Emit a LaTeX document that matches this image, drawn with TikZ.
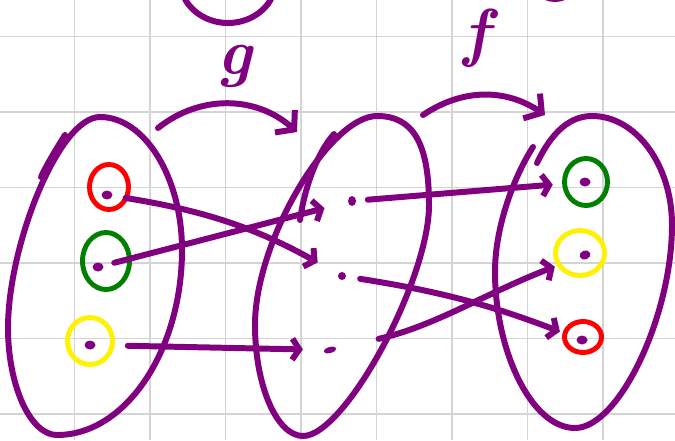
\documentclass[tikz,border=0pt]{standalone}
\usetikzlibrary{arrows.meta,shapes.geometric}
\definecolor{ink}{RGB}{128,0,128}
\definecolor{inkgreen}{RGB}{0,128,0}
\definecolor{gridgray}{RGB}{212,212,212}
\begin{document}
\begin{tikzpicture}[x=0.02cm,y=0.02cm,
  setline/.style={draw=ink, line width=3.4pt, line cap=round, line join=round},
  dot/.style={ellipse, fill=ink, inner sep=0pt, minimum width=0.22cm, minimum height=0.18cm},
  ring/.style={ellipse, draw=#1, line width=2.8pt, inner sep=0pt},
  map/.style={setline, -{Straight Barb[length=4pt,width=12pt]}},
  bigmap/.style={setline, -{Straight Barb[length=7pt,width=17pt]}},
  letter/.style={text=ink, font=\fontsize{37}{37}\selectfont\bfseries\itshape}]
\useasboundingbox (0,0) rectangle (675,440);
\clip (0,0) rectangle (675,440);
\fill[white] (0,0) rectangle (675,440);
\foreach \x in {74.5,150,225.5,301,376.5,452,527.5,603}
  \draw[gridgray, line width=1pt] (\x,0) -- (\x,440);
\foreach \y in {26,101.5,177,252.5,328,403.5}
  \draw[gridgray, line width=1pt] (0,\y) -- (675,\y);

\draw[setline] (228,460) ellipse [x radius=48, y radius=43];
\draw[setline] (555,468) ellipse [x radius=25, y radius=27];

\draw[setline] (100,323) .. controls (145,323) and (182,262) .. (182,190)
  .. controls (182,90) and (126,5) .. (57,5)
  .. controls (30,5) and (8,55) .. (8,112)
  .. controls (8,195) and (59,323) .. cycle;
\draw[setline] (65,305) .. controls (57,292) and (48,278) .. (41,263);
\draw[setline] (377,324) .. controls (413,324) and (429,297) .. (429,235)
  .. controls (429,160) and (345,4) .. (303,4)
  .. controls (277,4) and (255,54) .. (255,115)
  .. controls (255,200) and (330,324) .. cycle;
\draw[setline] (334,306) .. controls (318,288) and (305,255) .. (300,220);
\draw[setline] (533,293) .. controls (515,265) and (495,215) .. (495,168)
  .. controls (495,90) and (531,12) .. (575,12)
  .. controls (619,12) and (672,124) .. (672,215)
  .. controls (672,275) and (636,324) .. (592,324)
  .. controls (565,324) and (548,300) .. (537,277);

\node[letter] (glabel) at (235,374) {g};
\node[letter] (flabel) at (476,402) {f};
\coordinate (gs) at (158,312);
\coordinate (ge) at (297,308);
\coordinate (fs) at (423,325);
\coordinate (fe) at (545,325);
\draw[bigmap] (gs) to[bend left=40] (ge);
\draw[bigmap] (fs) to[bend left=34] (fe);

\node[ring=red, minimum width=0.78cm, minimum height=0.9cm] (lr) at (109,253) {};
\node[ring=inkgreen, minimum width=0.94cm, minimum height=1.14cm] (lg) at (106,179) {};
\node[ring=yellow, minimum width=0.9cm, minimum height=0.94cm] (ly) at (90,99) {};
\node[ring=inkgreen, minimum width=0.86cm, minimum height=0.94cm] (rg) at (586,258) {};
\node[ring=yellow, minimum width=0.98cm, minimum height=0.9cm] (ry) at (580,187) {};
\node[ring=red, minimum width=0.74cm, minimum height=0.62cm] (rr) at (583,103) {};

\node[dot] (l1) at (107,245) {};
\node[dot] (l2) at (98,173) {};
\node[dot] (l3) at (90,95) {};
\node[dot, minimum width=0.16cm, minimum height=0.2cm] (m1) at (352,239) {};
\node[dot, minimum width=0.16cm, minimum height=0.16cm] (m2) at (342,164) {};
\node[dot, minimum width=0.26cm, minimum height=0.12cm, rotate=15] (m3) at (330,90) {};
\node[dot] (r1) at (585,258) {};
\node[dot, rotate=20] (r2) at (585,185) {};
\node[dot] (r3) at (582,100) {};

\draw[map, shorten <=0.26cm, shorten >=0.47cm] (l1) to[bend left=10] (m2);
\draw[map, shorten <=0.22cm, shorten >=0.48cm] (l2) -- (m1);
\draw[map, shorten <=0.64cm, shorten >=0.42cm] (l3) -- (m3);
\draw[map, shorten <=0.23cm, shorten >=0.53cm] (m1) -- (r1);
\draw[map, shorten <=0.28cm, shorten >=0.36cm] (m2) to[bend left=6] (r3);
\draw[map, shorten <=0.86cm, shorten >=0.53cm] (m3) to[out=12, in=200] (r2);
\end{tikzpicture}
\end{document}
